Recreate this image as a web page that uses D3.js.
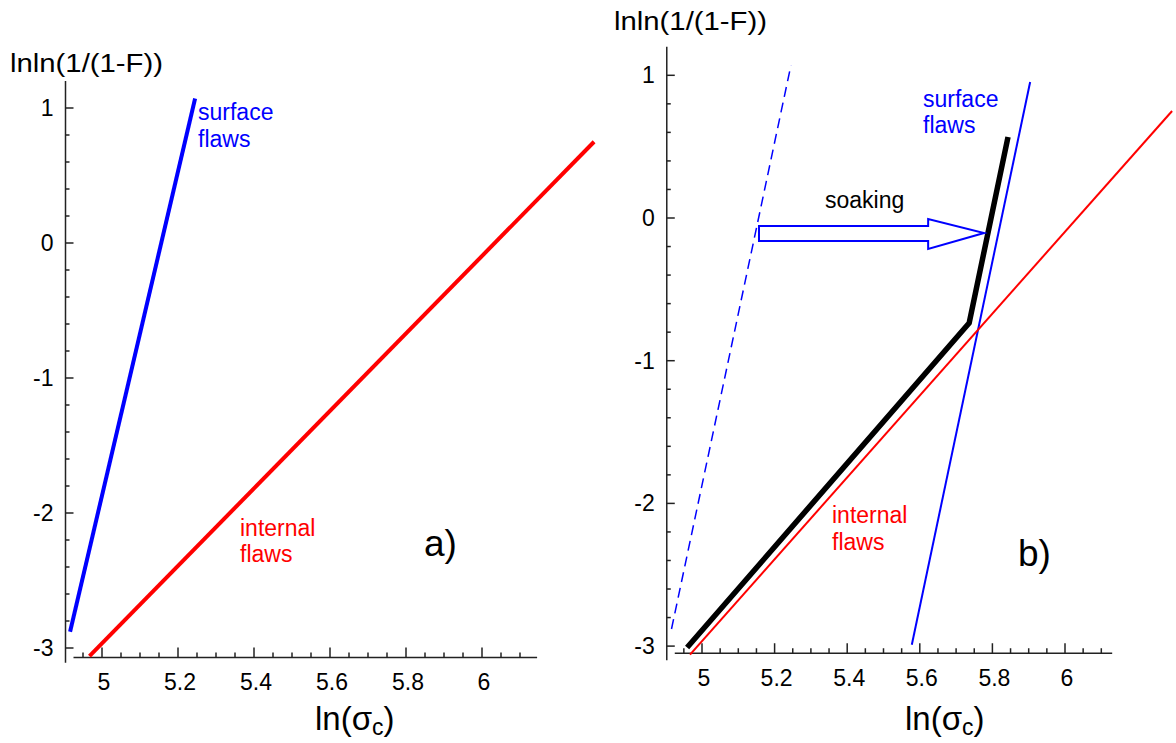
<!DOCTYPE html>
<html>
<head>
<meta charset="utf-8">
<script src="https://cdn.jsdelivr.net/npm/d3@7"></script>
<style>
  body { margin: 0; background: #fff; }
  text { font-family: "Liberation Sans", Arial, sans-serif; }
</style>
</head>
<body>
<div id="plot"></div>
<script>
// Data (x = ln(sigma_c), y = lnln(1/(1-F)))
const surfaceX = [4.916, 5.245];
const surfaceY = [-2.88, 1.07];
const internalX = [4.967, 6.295];
const internalY = [-3.06, 0.75];
const soakedX = [5.578, 5.904];
const soakedY = [-2.99, 0.953];
const combinedX = [4.959, 5.736, 5.843];
const combinedY = [-3.01, -0.736, 0.568];
// soaking arrow: shaft start, head base, tip
const arrowX = [5.157, 5.623, 5.777];
const arrowShaftY = [-0.056, -0.161];
const arrowHeadY = [-0.007, -0.217];
const arrowTipY = -0.105;

const xTicks = [5, 5.2, 5.4, 5.6, 5.8, 6];
const xTickLabels = ["5", "5.2", "5.4", "5.6", "5.8", "6"];
const yTicks = [-3, -2, -1, 0, 1];
const yTickLabels = ["-3", "-2", "-1", "0", "1"];

const width = 1176;
const height = 743;

const svg = d3.select("#plot")
  .append("svg")
  .attr("width", width)
  .attr("height", height);

const pts = (xs, ys) => xs.map((x, i) => [x, ys[i]]);

// draw one panel's axes, returns scales
function drawAxes(p) {
  const x = d3.scaleLinear().domain([5, 6]).range(p.xr);
  const y = d3.scaleLinear().domain([0, 1]).range(p.yr);
  const g = svg.append("g");
  const ax = x(p.xmin), ay = y(p.xAxisY);
  const yx = ax - 8;

  // y axis line
  g.append("line")
    .attr("x1", yx).attr("x2", yx)
    .attr("y1", y(p.ymax)).attr("y2", y(p.ymin))
    .attr("stroke", "#222").attr("stroke-width", 1.5);
  // x axis line
  g.append("line")
    .attr("x1", ax).attr("x2", x(p.xmax))
    .attr("y1", ay).attr("y2", ay)
    .attr("stroke", "#222").attr("stroke-width", 1.5);

  const yMinor = d3.range(-3, 1.001, 0.2);
  g.selectAll(".ym").data(yMinor).enter().append("line")
    .attr("x1", yx).attr("x2", d => yx + (Math.abs(d - Math.round(d)) < 1e-6 ? 8 : 4))
    .attr("y1", d => y(d)).attr("y2", d => y(d))
    .attr("stroke", "#222").attr("stroke-width", 1.5);

  const xMinor = d3.range(4.95, 6.1001, 0.05);
  g.selectAll(".xm").data(xMinor).enter().append("line")
    .attr("x1", d => x(d)).attr("x2", d => x(d))
    .attr("y1", ay)
    .attr("y2", d => ay - (Math.abs(d * 5 - Math.round(d * 5)) < 1e-6 ? 10 : 5))
    .attr("stroke", "#222").attr("stroke-width", 1.5);

  g.selectAll(".yl").data(yTicks).enter().append("text")
    .attr("x", yx - 12).attr("y", d => y(d) + 8)
    .attr("text-anchor", "end")
    .style("font-size", "23px")
    .text((d, i) => yTickLabels[i]);

  g.selectAll(".xl").data(xTicks).enter().append("text")
    .attr("x", d => x(d) + 2).attr("y", ay + 33)
    .attr("text-anchor", "middle")
    .style("font-size", "23px")
    .text((d, i) => xTickLabels[i]);

  g.append("text")
    .attr("x", p.yLabel[0]).attr("y", p.yLabel[1])
    .attr("textLength", 153).attr("lengthAdjust", "spacingAndGlyphs")
    .style("font-size", "25px")
    .text("lnln(1/(1-F))");

  const xl = g.append("text")
    .attr("x", p.xLabel[0]).attr("y", p.xLabel[1])
    .style("font-size", "33px");
  xl.append("tspan").text("ln(σ");
  xl.append("tspan").attr("dy", 5).style("font-size", "23px").text("c");
  xl.append("tspan").attr("dy", -5).text(")");

  return { x, y };
}

const line = (s) => d3.line().x(d => s.x(d[0])).y(d => s.y(d[1]));

function label(lines, x0, y0, color, size, step) {
  const t = svg.append("text").style("font-size", size + "px").attr("fill", color);
  lines.forEach((l, i) => t.append("tspan").attr("x", x0).attr("y", y0 + i * step).text(l));
}

// ---- panel a)
const a = drawAxes({
  xr: [102, 482], yr: [243, 108],
  xmin: 4.925, xmax: 6.145, xAxisY: -3.07, ymin: -3.11, ymax: 1.2,
  yLabel: [10, 72], xLabel: [315, 730]
});

svg.append("path").datum(pts(surfaceX, surfaceY))
  .attr("d", line(a)).attr("fill", "none")
  .attr("stroke", "#0000ff").attr("stroke-width", 4);
svg.append("path").datum(pts(internalX, internalY))
  .attr("d", line(a)).attr("fill", "none")
  .attr("stroke", "#ff0000").attr("stroke-width", 4);

label(["surface", "flaws"], 198, 120, "#0000ff", 23, 27);
label(["internal", "flaws"], 240, 536, "#ff0000", 23, 26);
svg.append("text").attr("x", 424).attr("y", 556)
  .style("font-size", "37px").text("a)");

// ---- panel b)
const b = drawAxes({
  xr: [702, 1065], yr: [218, 75.3],
  xmin: 4.925, xmax: 6.13, xAxisY: -3.05, ymin: -3.1, ymax: 1.2,
  yLabel: [614, 30], xLabel: [905, 730]
});

svg.append("path").datum(pts(surfaceX, surfaceY))
  .attr("d", line(b)).attr("fill", "none")
  .attr("stroke", "#0000ff").attr("stroke-width", 1.5)
  .attr("stroke-dasharray", "10,6");
svg.append("path").datum(pts(soakedX, soakedY))
  .attr("d", line(b)).attr("fill", "none")
  .attr("stroke", "#0000ff").attr("stroke-width", 2);
svg.append("path").datum(pts(internalX, internalY))
  .attr("d", line(b)).attr("fill", "none")
  .attr("stroke", "#ff0000").attr("stroke-width", 2);
svg.append("path").datum(pts(combinedX, combinedY))
  .attr("d", line(b)).attr("fill", "none")
  .attr("stroke", "#000").attr("stroke-width", 5.5)
  .attr("stroke-linejoin", "miter");

// soaking arrow
const arrowPts = [
  [arrowX[0], arrowShaftY[0]], [arrowX[1], arrowShaftY[0]], [arrowX[1], arrowHeadY[0]],
  [arrowX[2], arrowTipY],
  [arrowX[1], arrowHeadY[1]], [arrowX[1], arrowShaftY[1]], [arrowX[0], arrowShaftY[1]]
];
svg.append("path").datum(arrowPts)
  .attr("d", d => line(b)(d) + "Z")
  .attr("fill", "#fff").attr("stroke", "#0000ff").attr("stroke-width", 2);

svg.append("text").attr("x", 825).attr("y", 208)
  .style("font-size", "23px").text("soaking");
label(["surface", "flaws"], 923, 107, "#0000ff", 23, 26);
label(["internal", "flaws"], 832, 523, "#ff0000", 23, 27);
svg.append("text").attr("x", 1018).attr("y", 566)
  .style("font-size", "37px").text("b)");
</script>
</body>
</html>
